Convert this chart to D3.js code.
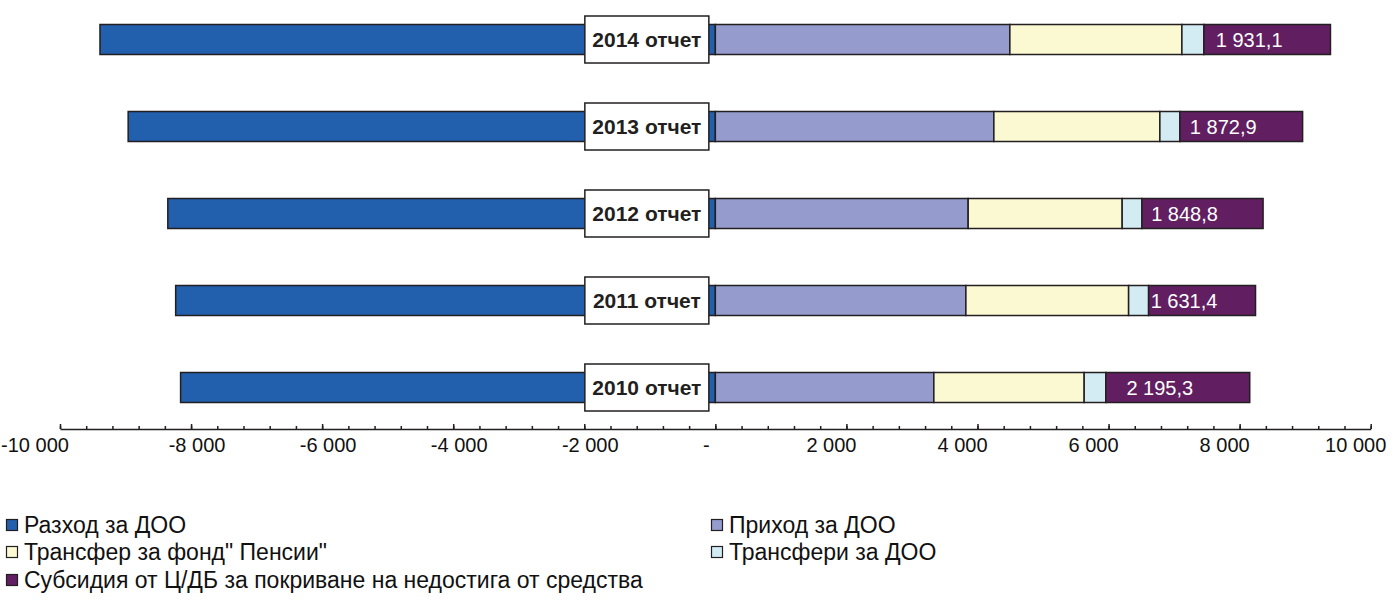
<!DOCTYPE html>
<html>
<head>
<meta charset="utf-8">
<script src="https://cdn.jsdelivr.net/npm/d3@7"></script>
<style>
  body { margin: 0; background: #fff; }
  text { font-family: "Liberation Sans", Arial, sans-serif; }
</style>
</head>
<body>
<div id="chart"></div>
<script>
var width = 1396,
    height = 614;

// data (млн. лв.)
var years           = ["2014 отчет", "2013 отчет", "2012 отчет", "2011 отчет", "2010 отчет"];
var expense         = [-9390, -8960, -8355, -8235, -8160];
var income          = [4494, 4250, 3858, 3823, 3334];
var pensionTransfer = [2625, 2533, 2350, 2483, 2294];
var dooTransfer     = [336, 305, 301, 305, 331];
var subsidy         = [1931.1, 1872.9, 1848.8, 1631.4, 2195.3];

var seriesNames = [
    "Разход за ДОО",
    "Приход за ДОО",
    "Трансфер за фонд\" Пенсии\"",
    "Трансфери за ДОО",
    "Субсидия от Ц/ДБ за покриване на недостига от средства"
];
var colors = ["#225fad", "#959ccd", "#fbf9d2", "#d3ecf4", "#611f61"];

var axisTicks = d3.range(-10000, 10001, 2000);
var minorTicks = d3.range(-10000, 10001, 400);

var loc = d3.formatLocale({ decimal: ",", thousands: " ", grouping: [3], currency: ["", ""], minus: "-" });
var fmtAxis = loc.format(",.0f"),
    fmtVal  = loc.format(",.1f");

var x = d3.scaleLinear().domain([-10000, 10000]).range([60, 1370.7]);
var y = d3.scalePoint().domain(years).range([39.5, 387.5]);
var barH = 30;

var svg = d3.select("#chart").append("svg")
    .attr("width", width)
    .attr("height", height);

// stack the positive parts
var rows = years.map(function (yr, i) {
    var segs = [];
    segs.push({ s: 0, x0: expense[i], x1: 0 });
    var acc = 0;
    [income, pensionTransfer, dooTransfer, subsidy].forEach(function (arr, k) {
        segs.push({ s: k + 1, x0: acc, x1: acc + arr[i] });
        acc += arr[i];
    });
    return { year: yr, i: i, segs: segs };
});

// axis
var gAxis = svg.append("g")
    .attr("transform", "translate(0, 429)");

gAxis.call(d3.axisBottom(x)
    .tickValues(minorTicks)
    .tickSizeInner(-3)
    .tickSizeOuter(0)
    .tickFormat(""));
gAxis.call(function (g) {
    g.append("g").call(d3.axisBottom(x)
        .tickValues(axisTicks)
        .tickSizeInner(-5)
        .tickSizeOuter(0)
        .tickFormat(""))
        .select(".domain").remove();
});
gAxis.selectAll("line, path").attr("stroke", "#231f20").attr("stroke-width", 1.5);

// labels sit a little off their ticks, as in the original (accounting format)
function labelX(d) {
    if (d === -10000) return x(d) - 25;
    return x(d) + (d < 0 ? 6 : d === 0 ? -9 : -15);
}

gAxis.selectAll(".lbl")
    .data(axisTicks)
    .enter()
    .append("text")
    .attr("class", "lbl")
    .attr("x", labelX)
    .attr("y", 23)
    .attr("text-anchor", "middle")
    .style("font-size", "20px")
    .attr("fill", "#111")
    .text(function (d) { return d === 0 ? "-" : fmtAxis(d); });

// bars
var gRows = svg.append("g").selectAll("g.row")
    .data(rows)
    .enter()
    .append("g")
    .attr("class", "row");

gRows.selectAll("rect")
    .data(function (d) { return d.segs.map(function (s) { s.year = d.year; return s; }); })
    .enter()
    .append("rect")
    .attr("x", function (d) { return x(d.x0); })
    .attr("width", function (d) { return x(d.x1) - x(d.x0); })
    .attr("y", function (d) { return y(d.year) - barH / 2; })
    .attr("height", barH)
    .attr("fill", function (d) { return colors[d.s]; })
    .attr("stroke", "#231f20")
    .attr("stroke-width", 1.5);

// subsidy values
gRows.append("text")
    .attr("x", function (d) {
        var s = d.segs[4];
        return (x(s.x0) + x(s.x1)) / 2 - 18;
    })
    .attr("y", function (d) { return y(d.year) + 7; })
    .attr("text-anchor", "middle")
    .attr("fill", "#fff")
    .style("font-size", "20px")
    .text(function (d) { return fmtVal(subsidy[d.i]); });

// year label boxes
var boxW = 124, boxH = 47;
gRows.append("rect")
    .attr("x", x(0) - 6.5 - boxW)
    .attr("y", function (d) { return y(d.year) - boxH / 2; })
    .attr("width", boxW)
    .attr("height", boxH)
    .attr("fill", "#fff")
    .attr("stroke", "#231f20")
    .attr("stroke-width", 1.5);

gRows.append("text")
    .attr("x", x(0) - 6.5 - boxW / 2)
    .attr("y", function (d) { return y(d.year) + 7.5; })
    .attr("text-anchor", "middle")
    .attr("fill", "#231f20")
    .style("font-size", "21px")
    .style("font-weight", "bold")
    .text(function (d) { return d.year; });

// legend
var legendPos = [[6, 525], [711, 525], [6, 552], [711, 552], [6, 580]];
var gLeg = svg.append("g").selectAll("g")
    .data(d3.range(seriesNames.length))
    .enter()
    .append("g")
    .attr("transform", function (d, i) {
        return "translate(" + legendPos[i][0] + "," + legendPos[i][1] + ")";
    });

gLeg.append("rect")
    .attr("x", 0.5)
    .attr("y", -5.5)
    .attr("width", 11)
    .attr("height", 11)
    .attr("fill", function (d) { return colors[d]; })
    .attr("stroke", "#231f20")
    .attr("stroke-width", 1.2);

gLeg.append("text")
    .attr("x", 18)
    .attr("y", 8)
    .attr("fill", "#111")
    .style("font-size", "23px")
    .text(function (d) { return seriesNames[d]; });
</script>
</body>
</html>
